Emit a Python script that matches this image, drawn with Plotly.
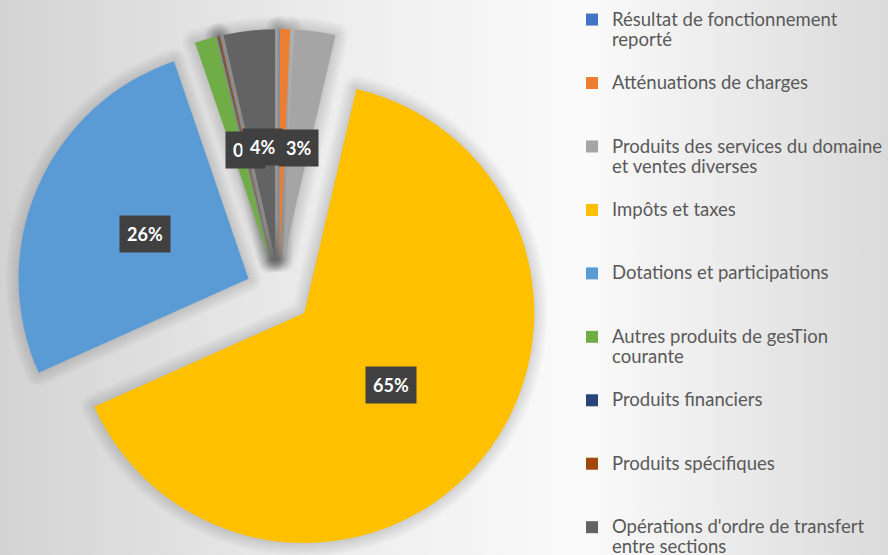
import math
import plotly.graph_objects as go

# ---- data ----
categories = [
    "Résultat de fonctionnement<br>reporté",
    "Atténuations de charges",
    "Produits des services du domaine<br>et ventes diverses",
    "Impôts et taxes",
    "Dotations et participations",
    "Autres produits de gesTion<br>courante",
    "Produits financiers",
    "Produits spécifiques",
    "Opérations d'ordre de transfert<br>entre sections",
]
values = [0.03, 0.7, 2.9, 64.6, 26.4, 1.5, 0.05, 0.1, 3.6]
label_texts = ["", "", "3%", "65%", "26%", "", "0%", "", "4%"]
colors = ["#4472C4", "#ED7D31", "#A5A5A5", "#FFC000", "#5B9BD5",
          "#70AD47", "#264478", "#9E480E", "#636363"]

W, H = 888, 555
PULL = 0.1435
DOM_X = [0.0, 0.628]
DOM_Y = [0.0, 0.9477]
LEG_SIZE = 15.5       # sets the legend row pitch
LEG_TEXT_SIZE = 18.5  # visible legend text size

# legend labels padded to 3 lines so every entry has the same height
legend_labels = []
for c in categories:
    lines = c.split("<br>")
    styled = ["<span style='font-size:%spx'>%s</span>" % (LEG_TEXT_SIZE, s) for s in lines]
    styled += [" "] * (3 - len(lines))
    legend_labels.append("<br>".join(styled))

fig = go.Figure()

# background gradients (chart area and legend area)
fig.add_trace(go.Scatter(
    x=[0, 589, 589, 0, 0], y=[0, 0, H, H, 0], mode="lines", fill="toself",
    line=dict(width=0), fillgradient=dict(type="horizontal",
    colorscale=[[0, "#d3d3d3"], [0.55, "#ececec"], [1, "#fbfbfb"]]),
    hoverinfo="skip", showlegend=False))
fig.add_trace(go.Scatter(
    x=[588, W, W, 588, 588], y=[0, 0, H, H, 0], mode="lines", fill="toself",
    line=dict(width=0), fillgradient=dict(type="horizontal",
    colorscale=[[0, "#fafafa"], [1, "#dadada"]]),
    hoverinfo="skip", showlegend=False))

# soft shadow around the slices (same pie, transparent fill, faint outlines)
for lw in (26, 22, 18, 14, 10, 6, 3):
    fig.add_trace(go.Pie(
        labels=legend_labels, values=values, sort=False, direction="clockwise",
        rotation=0, pull=[PULL] * len(values), textinfo="none",
        marker=dict(colors=["rgba(0,0,0,0)"] * len(values),
                    line=dict(width=lw, color="rgba(0,0,0,0.018)")),
        domain=dict(x=DOM_X, y=DOM_Y), hoverinfo="skip", showlegend=False,
    ))

fig.add_trace(go.Pie(
    labels=legend_labels, values=values, sort=False, direction="clockwise",
    rotation=0, pull=[PULL] * len(values), textinfo="none",
    marker=dict(colors=colors, line=dict(width=0)),
    domain=dict(x=DOM_X, y=DOM_Y), hoverinfo="skip",
))

# label positions derived from the pie geometry
cx = W * (DOM_X[0] + DOM_X[1]) / 2
cy = H * (1 - (DOM_Y[0] + DOM_Y[1]) / 2)
r = min(W * (DOM_X[1] - DOM_X[0]), H * (DOM_Y[1] - DOM_Y[0])) / 2 / (1 + PULL)
total = sum(values)
starts = []
acc = 0.0
for v in values:
    starts.append(acc)
    acc += v
mids = {i: (starts[i] + values[i] / 2) / total * 2 * math.pi for i in range(len(values))}

order = [6, 8, 2, 3, 4]
annotations = []
for i in order:
    t = label_texts[i]
    if not t:
        continue
    a = mids[i]
    d = PULL * r + 0.49 * r
    px = cx + d * math.sin(a)
    py = cy - d * math.cos(a)
    annotations.append(dict(
        x=px / W, y=1 - py / H, xref="paper", yref="paper", text="<b>%s</b>" % t,
        showarrow=False, font=dict(family="Lato", size=18, color="white"),
        bgcolor="#404040", borderpad=7, xanchor="center", yanchor="middle"))

fig.update_layout(
    width=W, height=H,
    margin=dict(l=0, r=0, t=0, b=0, autoexpand=False),
    paper_bgcolor="white", plot_bgcolor="rgba(0,0,0,0)",
    xaxis=dict(visible=False, range=[0, W], fixedrange=True),
    yaxis=dict(visible=False, range=[H, 0], fixedrange=True),
    showlegend=True,
    legend=dict(x=572 / W, y=1 - 3 / H, xanchor="left", yanchor="top",
                font=dict(family="Lato", size=LEG_SIZE, color="#595959"),
                valign="top", bgcolor="rgba(0,0,0,0)", maxheight=800,
                itemclick=False, itemdoubleclick=False),
    annotations=annotations,
)

fig.write_html("out.html", config={"displayModeBar": False},
               post_script="document.body.style.margin='0';")
